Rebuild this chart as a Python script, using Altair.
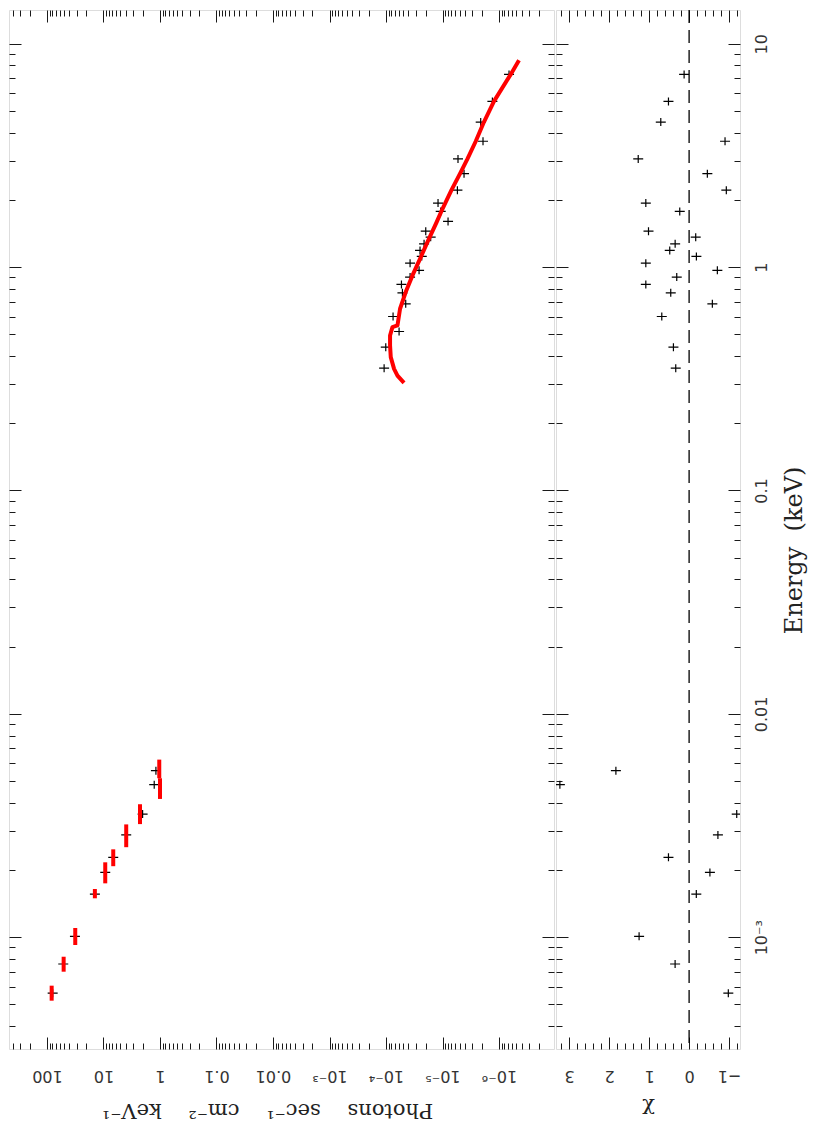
import json
import altair as alt
import pandas as pd

# ---------------- data ----------------
# high-energy spectrum: energy (keV), flux (photons s^-1 cm^-2 keV^-1), residual (chi)
hi_energy = [7.29, 5.52, 4.46, 3.66, 3.05, 2.62, 2.21, 1.935, 1.776, 1.602, 1.449, 1.362,
             1.271, 1.188, 1.117, 1.042, 0.967, 0.902, 0.837, 0.767, 0.685, 0.601, 0.515,
             0.438, 0.353]
hi_flux = [6.65e-7, 1.31e-6, 2.11e-6, 1.92e-6, 5.32e-6, 4.16e-6, 5.45e-6, 1.20e-5, 1.076e-5,
           7.98e-6, 1.98e-5, 1.62e-5, 2.12e-5, 2.50e-5, 2.33e-5, 3.75e-5, 2.60e-5, 3.75e-5,
           5.33e-5, 5.12e-5, 4.48e-5, 7.50e-5, 5.87e-5, 1.01e-4, 1.08e-4]
hi_chi = [0.125, 0.516, 0.708, -0.898, 1.272, -0.456, -0.930, 1.082, 0.234, -1.6, 1.015,
          -0.165, 0.349, 0.484, -0.182, 1.082, -0.706, 0.309, 1.082, 0.459, -0.581, 0.683,
          -1.5, 0.392, 0.334]

# low-energy spectrum
lo_energy = [5.57e-3, 4.82e-3, 3.56e-3, 2.87e-3, 2.28e-3, 1.95e-3, 1.56e-3, 1.01e-3,
             7.59e-4, 5.62e-4]
lo_flux = [1.18, 1.265, 2.03, 3.96, 6.72, 9.31, 14.2, 32.0, 51.5, 79.3]
lo_chi = [1.83, 3.23, -1.19, -0.72, 0.516, -0.52, -0.18, 1.25, 0.35, -0.98]

# folded model over the low-energy bins
bin_lo = [5.15e-3, 4.16e-3, 3.21e-3, 2.53e-3, 2.08e-3, 1.743e-3, 1.494e-3, 9.23e-4,
          7.01e-4, 5.20e-4]
bin_hi = [6.24e-3, 5.15e-3, 3.94e-3, 3.20e-3, 2.475e-3, 2.165e-3, 1.644e-3, 1.10e-3,
          8.18e-4, 6.07e-4]
bin_flux = [1.03, 1.00, 2.26, 3.96, 6.72, 9.31, 14.2, 31.6, 50.7, 82.6]

# folded model curve at high energy
model_energy = [8.43, 7.29, 5.52, 4.46, 3.66, 3.05, 2.62, 2.21, 1.824, 1.59, 1.294, 1.089,
                0.918, 0.773, 0.651, 0.548, 0.5387, 0.4944, 0.4459, 0.3954, 0.3504, 0.327,
                0.303]
model_flux = [4.43e-7, 6.21e-7, 1.23e-6, 1.85e-6, 2.58e-6, 3.62e-6, 4.90e-6, 6.95e-6,
              1.00e-5, 1.27e-5, 1.85e-5, 2.50e-5, 3.40e-5, 4.48e-5, 5.64e-5, 6.27e-5,
              7.69e-5, 8.48e-5, 8.48e-5, 8.24e-5, 7.20e-5, 6.27e-5, 4.80e-5]

zero_line = [0.0]

# axis ranges, tick labels and titles
E_DOMAIN = [3.16e-4, 14.16]
F_DOMAIN = [1.064e-7, 470.0]
CHI_DOMAIN = [-1.272, 3.327]

E_MAJOR = [1e-3, 1e-2, 1e-1, 1.0, 10.0]
E_LABELS = ["10⁻³", "0.01", "0.1", "1", "10"]
F_MAJOR = [1e-6, 1e-5, 1e-4, 1e-3, 1e-2, 1e-1, 1.0, 10.0, 100.0]
F_LABELS = ["10⁻⁶", "10⁻⁵", "10⁻⁴", "10⁻³", "0.01", "0.1", "1", "10", "100"]
CHI_MAJOR = [-1, 0, 1, 2, 3]
CHI_LABELS = ["−1", "0", "1", "2", "3"]

GAP = "\u00a0" * 4
FLUX_TITLE = GAP.join(["Photons", "sec⁻¹", "cm⁻²", "keV⁻¹"])
ENERGY_TITLE = "Energy\u00a0\u00a0(keV)"
CHI_TITLE = "χ"


def log_minor(lo, hi):
    out = []
    for n in range(-8, 3):
        for k in range(2, 10):
            v = float(f"{k}e{n}")
            if lo <= v <= hi:
                out.append(v)
    return out


E_MINOR = log_minor(*E_DOMAIN)
F_MINOR = log_minor(*F_DOMAIN)
CHI_MINOR = [round(v / 5, 1) for v in range(-6, 17) if v % 5]

# ---------------- tables ----------------
spec_df = pd.DataFrame({"energy": hi_energy + lo_energy,
                        "flux": hi_flux + lo_flux,
                        "chi": hi_chi + lo_chi})
bins_df = pd.DataFrame({"e_lo": bin_lo, "e_hi": bin_hi, "flux": bin_flux})
model_df = pd.DataFrame({"energy": model_energy, "flux": model_flux,
                         "i": list(range(len(model_energy)))})
zero_df = pd.DataFrame({"chi": zero_line})

# ---------------- scales / axes ----------------
E_SCALE = alt.Scale(type="log", domain=E_DOMAIN, nice=False)
F_SCALE = alt.Scale(type="log", domain=F_DOMAIN, nice=False, reverse=True)
C_SCALE = alt.Scale(type="linear", domain=CHI_DOMAIN, nice=False, zero=False, reverse=True)

MAJ, MIN = 12, 6
TICK = dict(domain=False, grid=False, tickColor="#1a1a1a", tickWidth=1)
LBL = dict(labelFont="DejaVu Sans", labelFontSize=16, labelColor="#333333",
           labelOverlap=False, labelFlush=False)
TTL = dict(titleFont="DejaVu Serif", titleFontWeight="normal", titleColor="#222222")


def tick_axis(orient, values, size):
    return alt.Axis(orient=orient, values=values, tickSize=size, offset=-size,
                    labels=False, title=None, **TICK)


def expr_lookup(labels, index_expr):
    return json.dumps(labels, ensure_ascii=False) + "[" + index_expr + "]"


flux_bottom = alt.Axis(orient="bottom", values=F_MAJOR, tickSize=MAJ, offset=-MAJ,
                       labelExpr=expr_lookup(F_LABELS, "round(log(datum.value)/LN10)+6"),
                       labelAngle=180, labelAlign="center", labelBaseline="bottom",
                       labelPadding=18, title=FLUX_TITLE, titleFontSize=21,
                       titleAngle=180, titleBaseline="bottom", titlePadding=16,
                       titleX=258, **TICK, **LBL, **TTL)
chi_bottom = alt.Axis(orient="bottom", values=CHI_MAJOR, tickSize=MAJ, offset=-MAJ,
                      labelExpr=expr_lookup(CHI_LABELS, "round(datum.value)+1"),
                      labelAngle=180, labelAlign="center", labelBaseline="bottom",
                      labelPadding=18, title=CHI_TITLE, titleFontSize=21, titleAngle=180,
                      titleBaseline="bottom", titlePadding=15, **TICK, **LBL, **TTL)
energy_right = alt.Axis(orient="right", values=E_MAJOR, tickSize=MAJ, offset=-MAJ,
                        labelExpr=expr_lookup(E_LABELS, "round(log(datum.value)/LN10)+3"),
                        labelAngle=270, labelAlign="center", labelBaseline="top",
                        labelPadding=13, title=ENERGY_TITLE, titleFontSize=24,
                        titleAngle=270, titleBaseline="top", titlePadding=13,
                        titleY=540, **TICK, **LBL, **TTL)

CROSS = "M-1,0H1M0,-0.8V0.8"
H = 1039


def cross_mark(**kw):
    return dict(shape=CROSS, size=100, filled=False, stroke="black", strokeWidth=1.2,
                **kw)


# ---------------- main spectrum panel ----------------
m_cross = alt.Chart(spec_df).mark_point(opacity=1, **cross_mark()).encode(
    x=alt.X("flux:Q", scale=F_SCALE, axis=flux_bottom),
    y=alt.Y("energy:Q", scale=E_SCALE, axis=tick_axis("left", E_MAJOR, MAJ)))
m_ghost = alt.Chart(spec_df).mark_point(opacity=0).encode(
    x=alt.X("flux:Q", scale=F_SCALE, axis=tick_axis("bottom", F_MINOR, MIN)),
    y=alt.Y("energy:Q", scale=E_SCALE, axis=tick_axis("left", E_MINOR, MIN)))
m_line = alt.Chart(model_df).mark_line(color="#ff0000", strokeWidth=4,
                                       strokeJoin="round").encode(
    x=alt.X("flux:Q", scale=F_SCALE, axis=tick_axis("top", F_MAJOR, MAJ)),
    y=alt.Y("energy:Q", scale=E_SCALE, axis=tick_axis("right", E_MAJOR, MAJ)),
    order="i:Q")
m_bins = alt.Chart(bins_df).mark_rule(color="#ff0000", strokeWidth=4).encode(
    x=alt.X("flux:Q", scale=F_SCALE, axis=tick_axis("top", F_MINOR, MIN)),
    y=alt.Y("e_lo:Q", scale=E_SCALE, axis=tick_axis("right", E_MINOR, MIN)),
    y2="e_hi:Q")

main = alt.layer(m_cross, m_ghost, m_line, m_bins).resolve_axis(
    x="independent", y="independent").properties(width=545, height=H)

# ---------------- residual panel ----------------
r_cross = alt.Chart(spec_df).mark_point(opacity=1, clip=True, **cross_mark()).encode(
    x=alt.X("chi:Q", scale=C_SCALE, axis=chi_bottom),
    y=alt.Y("energy:Q", scale=E_SCALE, axis=energy_right))
r_g1 = alt.Chart(spec_df).mark_point(opacity=0, clip=True).encode(
    x=alt.X("chi:Q", scale=C_SCALE, axis=tick_axis("bottom", CHI_MINOR, MIN)),
    y=alt.Y("energy:Q", scale=E_SCALE, axis=tick_axis("right", E_MINOR, MIN)))
r_g2 = alt.Chart(spec_df).mark_point(opacity=0, clip=True).encode(
    x=alt.X("chi:Q", scale=C_SCALE, axis=tick_axis("top", CHI_MAJOR, MAJ)),
    y=alt.Y("energy:Q", scale=E_SCALE, axis=tick_axis("left", E_MAJOR, MAJ)))
r_g3 = alt.Chart(spec_df).mark_point(opacity=0, clip=True).encode(
    x=alt.X("chi:Q", scale=C_SCALE, axis=tick_axis("top", CHI_MINOR, MIN)),
    y=alt.Y("energy:Q", scale=E_SCALE, axis=tick_axis("left", E_MINOR, MIN)))
r_zero = alt.Chart(zero_df).mark_rule(color="black", strokeWidth=1.3,
                                      strokeDash=[13, 7]).encode(
    x=alt.X("chi:Q", scale=C_SCALE, axis=None))

resid = alt.layer(r_cross, r_g1, r_g2, r_g3, r_zero).resolve_axis(
    x="independent", y="independent").properties(width=184, height=H)

chart = alt.hconcat(main, resid, spacing=0,
                    padding={"left": 0, "top": 0, "right": 6, "bottom": 14}).configure_view(
    stroke="#1a1a1a", strokeWidth=1.2).configure(background="white")

chart.save("out.html", embed_options={"renderer": "svg", "actions": False})
